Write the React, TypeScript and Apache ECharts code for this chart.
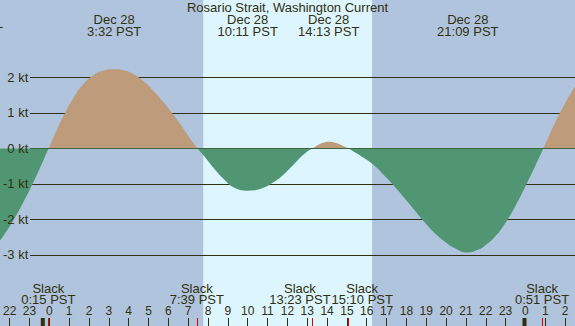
import React, { useEffect, useRef } from "react";
import * as echarts from "echarts";

// ---- data ----
const TITLE = "Rosario Strait, Washington Current";

// hours since Dec 28 00:00 PST (readings every half hour, plus the extremes)
const HOURS = [
  -2.5, -2.0, -1.5, -1.0, -0.5, 0.0, 0.5, 1.0, 1.5, 2.0, 2.5, 3.0, 3.55, 4.0, 4.5,
  5.0, 5.5, 6.0, 6.5, 7.0, 7.5, 8.0, 8.5, 9.0, 9.5, 10.2, 10.9, 11.5, 12.0,
  12.5, 13.0, 13.5, 13.9, 14.25, 14.6, 15.0, 15.5, 16.0, 16.5, 17.0, 17.5, 18.0, 18.5,
  19.0, 19.5, 20.0, 20.5, 21.15, 21.6, 22.0, 22.5, 23.0, 23.5, 24.0, 24.5, 25.0,
  25.5, 26.0, 26.5,
];
// current speed in knots (flood positive, ebb negative)
const CURRENT_KT = [
  -2.84, -2.47, -2.03, -1.52, -0.96, -0.34, 0.3, 0.91, 1.42, 1.81, 2.06, 2.19, 2.23,
  2.2, 2.09, 1.89, 1.61, 1.29, 0.93, 0.54, 0.13, -0.21, -0.56, -0.87, -1.1, -1.19,
  -1.12, -0.94, -0.72, -0.44, -0.16, 0.03, 0.15, 0.19, 0.15, 0.05, -0.1, -0.28,
  -0.49, -0.77, -1.07, -1.4, -1.74, -2.08, -2.38, -2.62, -2.81, -2.93, -2.87, -2.74,
  -2.49, -2.12, -1.64, -1.09, -0.51, 0.1, 0.72, 1.27, 1.74,
];

const EXTREME_TIMES = [-3.54, 3.533, 10.183, 14.217, 21.15];
const EXTREME_DATES = ["Dec 27", "Dec 28", "Dec 28", "Dec 28", "Dec 28"];
const EXTREME_LABELS = ["20:28 PST", "3:32 PST", "10:11 PST", "14:13 PST", "21:09 PST"];

const SLACK_TIMES = [0.25, 7.65, 13.383, 15.167, 24.85];
const SLACK_LABELS = ["0:15 PST", "7:39 PST", "13:23 PST", "15:10 PST", "0:51 PST"];

const MIDNIGHTS = [0, 24];
const SUNRISE = 7.97;
const SUNSET = 16.38;

// ---- layout / style ----
const W = 575;
const H = 326;
const PX_PER_H = 20.07;
const ZERO_X = 43.3;
const PX_PER_KT = 35.53;
const ZERO_Y = 148.4;
const X_MIN = -ZERO_X / PX_PER_H;
const X_MAX = (W - ZERO_X) / PX_PER_H;
const Y_MAX = ZERO_Y / PX_PER_KT;
const Y_MIN = -(H - ZERO_Y) / PX_PER_KT;
// horizontal nudges (px) keeping adjacent slack labels apart
const SLACK_LABEL_NUDGE = [0, 0, -12, 14.5, 0];

const NIGHT = "#b0c4de";
const DAY = "#ddf5fe";
const FLOOD = "#bd9b7b";
const EBB = "#519673";
const DARK = "#30300f";
const RED = "#e00000";
const FONT = '"Liberation Sans", Arial, sans-serif';

export default function App() {
  const ref = useRef<HTMLDivElement>(null);

  useEffect(() => {
    if (!ref.current) return;
    const chart = echarts.init(ref.current, undefined, { renderer: "svg" });
    const gridTop = ZERO_Y - 2 * PX_PER_KT;
    const gridBottom = H - (ZERO_Y + 3 * PX_PER_KT);
    const tickLeft = ZERO_X - 2 * PX_PER_H;
    const tickRight = W - (ZERO_X + 26 * PX_PER_H);

    chart.setOption({
      animation: false,
      backgroundColor: NIGHT,
      grid: [
        { left: 0, right: 0, top: 0, bottom: 0 },
        { left: 30, right: 0, top: gridTop, bottom: gridBottom },
        { left: tickLeft, right: tickRight, top: 0, bottom: 0 },
        { left: 30, right: 0, top: gridTop, bottom: gridBottom },
      ],
      xAxis: [
        { type: "value", gridIndex: 0, min: X_MIN, max: X_MAX, show: false },
        { type: "value", gridIndex: 1, min: 0, max: 1, show: false },
        {
          type: "value",
          gridIndex: 2,
          min: -2,
          max: 26,
          interval: 1,
          z: 5,
          axisLine: { show: false },
          splitLine: { show: false },
          axisTick: { show: true, inside: true, length: 8, interval: 0, lineStyle: { color: DARK, width: 1 } },
          axisLabel: {
            show: true,
            inside: true,
            interval: 0,
            margin: 14.7,
            verticalAlign: "middle",
            lineHeight: 11,
            color: DARK,
            fontSize: 12,
            fontFamily: FONT,
            formatter: (v: number) => String(((Math.round(v) % 24) + 24) % 24),
          },
        },
        { type: "value", gridIndex: 3, min: 0, max: 1, show: false },
      ],
      yAxis: [
        { type: "value", gridIndex: 0, min: Y_MIN, max: Y_MAX, show: false },
        {
          type: "value",
          gridIndex: 1,
          min: -3,
          max: 2,
          interval: 1,
          z: 1,
          axisLine: { show: false },
          axisTick: { show: false },
          axisLabel: { show: false },
          splitLine: { show: true, showMinLine: true, showMaxLine: true, lineStyle: { color: DARK, width: 1 } },
        },
        { type: "value", gridIndex: 2, min: 0, max: 1, show: false },
        {
          type: "value",
          gridIndex: 3,
          min: -3,
          max: 2,
          interval: 1,
          z: 10,
          axisLine: { show: false },
          axisTick: { show: false },
          splitLine: { show: false },
          axisLabel: { show: true, margin: 2, color: DARK, fontSize: 13, fontFamily: FONT, formatter: "{value} kt" },
        },
      ],
      visualMap: [
        {
          type: "piecewise",
          show: false,
          seriesIndex: 1,
          dimension: 1,
          pieces: [
            { gt: -10, lt: 0, color: EBB },
            { gte: 0, lt: 10, color: FLOOD },
          ],
          outOfRange: { color: EBB },
        },
      ],
      series: [
        {
          type: "custom",
          xAxisIndex: 0,
          yAxisIndex: 0,
          z: 0,
          silent: true,
          encode: { x: [0, 1] },
          data: [[SUNRISE, SUNSET]],
          renderItem: (_params: any, api: any) => {
            const p1 = api.coord([api.value(0), Y_MAX]);
            const p2 = api.coord([api.value(1), Y_MIN]);
            return {
              type: "rect",
              shape: { x: p1[0], y: p1[1], width: p2[0] - p1[0], height: p2[1] - p1[1] },
              style: { fill: DAY },
            };
          },
        },
        {
          type: "line",
          xAxisIndex: 0,
          yAxisIndex: 0,
          z: 2,
          silent: true,
          symbol: "none",
          showSymbol: false,
          smooth: 0.5,
          lineStyle: { width: 0 },
          areaStyle: { opacity: 1, origin: 0 },
          data: HOURS.map((h, i) => [h, CURRENT_KT[i]]),
        },
      ],
    });

    const px = (t: number) => chart.convertToPixel({ xAxisIndex: 0 }, t) as unknown as number;
    const text = (s: string, x: number, y: number, size: number, lineHeight: number) => ({
      type: "text",
      z: 100,
      x,
      y,
      silent: true,
      style: {
        text: s,
        fill: DARK,
        fontSize: size,
        fontFamily: FONT,
        lineHeight,
        align: "center",
        verticalAlign: "middle",
      },
    });

    const elements: any[] = [];
    elements.push(text(TITLE, W / 2, 7.3, 13, 12));
    EXTREME_TIMES.forEach((t, i) => {
      elements.push(text(`${EXTREME_DATES[i]}\n${EXTREME_LABELS[i]}`, px(t), 25.6, 13, 12.3));
    });
    SLACK_TIMES.forEach((t, i) => {
      const x = px(t);
      elements.push(text(`Slack\n${SLACK_LABELS[i]}`, x + SLACK_LABEL_NUDGE[i], 293.9, 13, 11.5));
      elements.push({
        type: "rect",
        z: 101,
        silent: true,
        shape: { x: Math.round(x), y: 318, width: 1, height: 8 },
        style: { fill: RED },
      });
    });
    MIDNIGHTS.forEach((t) => {
      const x = px(t);
      elements.push({
        type: "rect",
        z: 101,
        silent: true,
        shape: { x: x - 2.5, y: 318, width: 4, height: 8 },
        style: { fill: DARK },
      });
    });
    chart.setOption({ graphic: elements });

    return () => chart.dispose();
  }, []);

  return (
    <div
      ref={ref}
      style={{ position: "fixed", left: 0, top: 0, width: W, height: H }}
    />
  );
}
